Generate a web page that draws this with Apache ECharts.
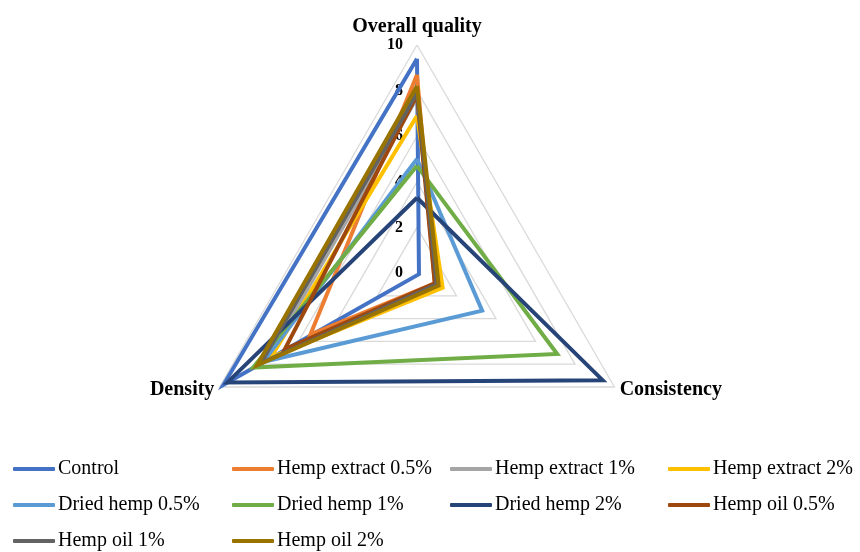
<!DOCTYPE html>
<html>
<head>
<meta charset="utf-8">
<script src="https://cdn.jsdelivr.net/npm/echarts@6/dist/echarts.min.js"></script>
<style>
  html, body { margin: 0; padding: 0; background: #fff; }
  #chart { width: 860px; height: 552px; }
</style>
</head>
<body>
<div id="chart"></div>
<script>
// Sensory attributes, counter-clockwise from the top
const attributes = ['Overall quality', 'Density', 'Consistency'];
const axisMax = 10;

// Sample names, in legend order
const samples = [
  'Control', 'Hemp extract 0.5%', 'Hemp extract 1%', 'Hemp extract 2%',
  'Dried hemp 0.5%', 'Dried hemp 1%', 'Dried hemp 2%', 'Hemp oil 0.5%',
  'Hemp oil 1%', 'Hemp oil 2%'
];

// Scores per attribute: [Overall quality, Density, Consistency]
const control        = [9.4, 9.8, 0.1];
const hempExtract05  = [8.7, 5.4, 0.9];
const hempExtract1   = [7.7, 7.6, 1.0];
const hempExtract2   = [6.9, 7.4, 1.3];
const driedHemp05    = [5.0, 7.8, 3.3];
const driedHemp1     = [4.7, 8.3, 7.1];
const driedHemp2     = [3.3, 9.6, 9.4];
const hempOil05      = [7.8, 6.7, 0.9];
const hempOil1       = [7.9, 7.9, 1.0];
const hempOil2       = [8.2, 8.1, 1.1];

const seriesValues = [control, hempExtract05, hempExtract1, hempExtract2,
  driedHemp05, driedHemp1, driedHemp2, hempOil05, hempOil1, hempOil2];

const colors = ['#4472C4', '#ED7D31', '#A5A5A5', '#FFC000', '#5B9BD5',
  '#70AD47', '#264478', '#9E480E', '#636363', '#997300'];

const serif = '"Liberation Serif", "Times New Roman", serif';

// Legend laid out in four columns
const legendColumns = [
  { left: 13,  names: [samples[0], samples[4], samples[8]] },
  { left: 232, names: [samples[1], samples[5], samples[9]] },
  { left: 450, names: [samples[2], samples[6]] },
  { left: 668, names: [samples[3], samples[7]] }
];

const chart = echarts.init(document.getElementById('chart'), null, { renderer: 'canvas' });

chart.setOption({
  animation: false,
  color: colors,
  legend: legendColumns.map(col => ({
    data: col.names,
    orient: 'vertical',
    left: col.left,
    top: 459,
    itemWidth: 42,
    itemHeight: 4,
    itemGap: 16,
    icon: 'roundRect',
    padding: 0,
    textStyle: { fontFamily: serif, fontSize: 20, color: '#000', padding: [0, 0, 0, -2] }
  })),
  radar: {
    center: [417, 273],
    radius: 228,
    startAngle: 90,
    shape: 'polygon',
    splitNumber: 5,
    indicator: attributes.map((name, i) => ({
      name: name,
      min: 0,
      max: axisMax,
      axisLabel: i === 0 ? { show: true } : { show: false }
    })),
    axisName: {
      color: '#000',
      fontFamily: serif,
      fontSize: 20,
      fontWeight: 'bold'
    },
    nameGap: 6,
    axisLine: { show: false },
    axisTick: { show: false },
    axisLabel: {
      show: false,
      fontFamily: serif,
      fontSize: 16,
      fontWeight: 'bold',
      color: '#000',
      margin: 14
    },
    splitLine: { lineStyle: { color: '#D9D9D9', width: 1.3 } },
    splitArea: { show: false }
  },
  series: [{
    type: 'radar',
    symbol: 'none',
    lineStyle: { width: 4, join: 'miter' },
    data: samples.map((name, i) => ({
      name: name,
      value: seriesValues[i],
      lineStyle: { color: colors[i], width: 4 },
      itemStyle: { color: colors[i] }
    }))
  }]
});
</script>
</body>
</html>
